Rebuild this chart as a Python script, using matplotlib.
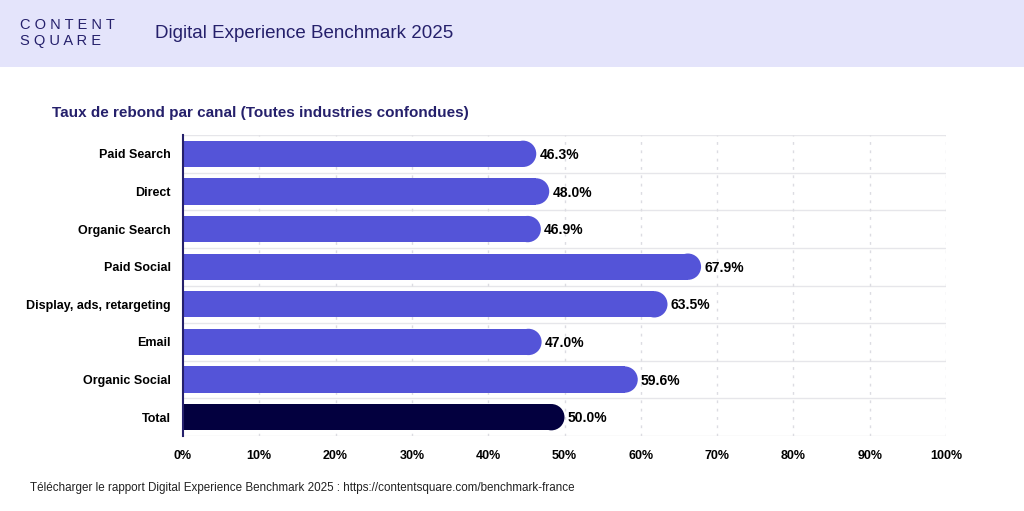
import numpy as np
import matplotlib.pyplot as plt
from matplotlib.patches import Rectangle

plt.rcParams['font.family'] = ['Liberation Sans', 'DejaVu Sans']

channels = ["Paid Search", "Direct", "Organic Search", "Paid Social",
            "Display, ads, retargeting", "Email", "Organic Social", "Total"]
bounce = [46.3, 48.0, 46.9, 67.9, 63.5, 47.0, 59.6, 50.0]
ticks = [0, 10, 20, 30, 40, 50, 60, 70, 80, 90, 100]

bar_color = "#5454d8"
total_color = "#03003f"
navy = "#25206b"

fig = plt.figure(figsize=(10.24, 5.11), dpi=100)

# header band
fig.patches.append(Rectangle((0, 1 - 67 / 511), 1, 67 / 511, transform=fig.transFigure,
                             facecolor="#e4e4fb", edgecolor="none", zorder=0))
fig.text(20 / 1024, 1 - 25 / 511, "C O N T E N T", color=navy, fontsize=10.5, va="center")
fig.text(20 / 1024, 1 - 41 / 511, "S Q U A R E", color=navy, fontsize=10.5, va="center")
fig.text(155 / 1024, 1 - 33 / 511, "Digital Experience Benchmark 2025", color=navy,
         fontsize=13.5, va="center")

fig.text(52 / 1024, 1 - 113 / 511, "Taux de rebond par canal (Toutes industries confondues)",
         color=navy, fontsize=11, fontweight="bold", va="center")

fig.text(30 / 1024, 1 - 488 / 511,
         "Télécharger le rapport Digital Experience Benchmark 2025 : https://contentsquare.com/benchmark-france",
         color="#222222", fontsize=8.4, va="center")

ax = fig.add_axes([183 / 1024, 1 - 436 / 511, (946 - 183) / 1024, (436 - 135) / 511])

n = len(channels)
y = np.arange(n)
colors = [bar_color] * (n - 1) + [total_color]
bar_h = 0.7

# radius of rounded end in data units
ax.set_xlim(0, 100)
ax.set_ylim(n - 0.5, -0.5)
px_per_unit_x = (946 - 183) / 100
px_per_unit_y = (436 - 135) / n
r_px = bar_h * px_per_unit_y / 2
r_data = r_px / px_per_unit_x
ms = 2 * r_px * 72 / 100

ax.barh(y, [v - r_data for v in bounce], height=bar_h, color=colors, zorder=3)
ax.scatter([v - r_data for v in bounce], y, s=ms ** 2, color=colors, marker="o",
           linewidths=0, zorder=3)

for yi, v in zip(y, bounce):
    ax.text(v + 0.4, yi + 0.03, f"{v:.1f}%", va="center", ha="left", fontsize=10,
            fontweight="bold", color="black", zorder=4)

# grid
for b in np.arange(n + 1) - 0.5:
    ax.axhline(b, color="#e6e6ea", linewidth=1, zorder=1)
for t in ticks[1:]:
    ax.axvline(t, color="#dcdce2", linewidth=1, linestyle=(0, (2, 4)), zorder=1)

ax.set_xticks(ticks)
ax.set_xticklabels([f"{t}%" for t in ticks], fontsize=9, fontweight="bold")
ax.set_yticks(y)
ax.set_yticklabels(channels, fontsize=9, fontweight="bold")
ax.tick_params(axis="both", length=0, pad=9)
ax.tick_params(axis="x", pad=10)

for s in ["top", "right", "bottom"]:
    ax.spines[s].set_visible(False)
ax.spines["left"].set_color(navy)
ax.spines["left"].set_linewidth(1.5)
ax.spines["left"].set_zorder(5)

fig.savefig("out.png", dpi=100)
